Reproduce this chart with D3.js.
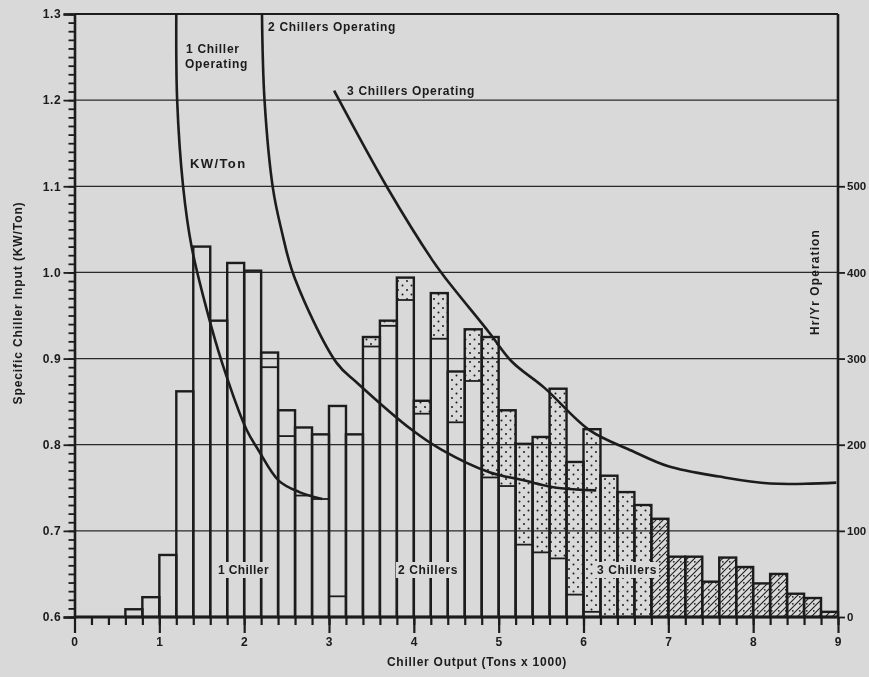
<!DOCTYPE html>
<html>
<head>
<meta charset="utf-8">
<script src="https://cdn.jsdelivr.net/npm/d3@7"></script>
<style>
  body { margin: 0; background: #d9d9d9; }
  svg text { font-family: "Liberation Sans", Arial, sans-serif; font-weight: bold; fill: #1a1a1a; }
</style>
</head>
<body>
<div id="chart"></div>
<script>
// bins of chiller output (tons x 1000), each 0.2 wide
var bins = [0.6, 0.8, 1.0, 1.2, 1.4, 1.6, 1.8, 2.0, 2.2, 2.4, 2.6, 2.8, 3.0, 3.2,
            3.4, 3.6, 3.8, 4.0, 4.2, 4.4, 4.6, 4.8, 5.0, 5.2, 5.4, 5.6, 5.8, 6.0,
            6.2, 6.4, 6.6, 6.8, 7.0, 7.2, 7.4, 7.6, 7.8, 8.0, 8.2, 8.4, 8.6, 8.8];
var binWidth = 0.2;

// hours per year in each bin, split by number of chillers running
var oneChiller    = [9, 23, 72, 262, 430, 344, 411, 402, 290, 210, 141, 137, 24, 0,
                     0, 0, 0, 0, 0, 0, 0, 0, 0, 0, 0, 0, 0, 0,
                     0, 0, 0, 0, 0, 0, 0, 0, 0, 0, 0, 0, 0, 0];
var twoChillers   = [0, 0, 0, 0, 0, 0, 0, 0, 17, 30, 79, 75, 221, 212,
                     314, 338, 368, 236, 323, 226, 274, 162, 152, 84, 75, 68, 26, 6,
                     0, 0, 0, 0, 0, 0, 0, 0, 0, 0, 0, 0, 0, 0];
var threeChillers = [0, 0, 0, 0, 0, 0, 0, 0, 0, 0, 0, 0, 0, 0,
                     11, 6, 26, 15, 53, 59, 60, 163, 88, 117, 134, 197, 154, 212,
                     164, 145, 130, 114, 70, 70, 41, 69, 58, 39, 50, 27, 22, 6];

// KW/Ton curves [tons x 1000, KW/Ton]
var curveOne = [[1.20, 1.30], [1.21, 1.20], [1.28, 1.10], [1.38, 1.03], [1.55, 0.96],
                [1.74, 0.895], [2.03, 0.817], [2.16, 0.795], [2.41, 0.758], [2.65, 0.745], [2.92, 0.737]];
var curveTwo = [[2.21, 1.30], [2.24, 1.20], [2.34, 1.097], [2.44, 1.049], [2.59, 0.995],
                [3.09, 0.895], [3.33, 0.872], [3.98, 0.817], [4.33, 0.794], [4.89, 0.768],
                [5.28, 0.759], [5.68, 0.750], [6.15, 0.747]];
var curveThree = [[3.06, 1.211], [3.69, 1.098], [4.22, 1.014], [4.36, 0.995], [4.89, 0.930],
                  [5.16, 0.896], [5.54, 0.866], [6.07, 0.817], [6.57, 0.793], [7.0, 0.775],
                  [7.6, 0.763], [8.2, 0.755], [8.98, 0.756]];

var xTicks = [0, 1, 2, 3, 4, 5, 6, 7, 8, 9];
var kwTicks = [0.6, 0.7, 0.8, 0.9, 1.0, 1.1, 1.2, 1.3];
var hrTicks = [0, 100, 200, 300, 400, 500];
var gridKw = [0.7, 0.8, 0.9, 1.0, 1.1, 1.2];

var W = 869, H = 677;
var bg = "#d9d9d9", ink = "#1c1c1c";
var plotL = 74.5, plotR = 838, plotT = 14, plotB = 617;

var x = d3.scaleLinear().domain([0, 9]).range([plotL, plotR]);
var y = d3.scaleLinear().domain([0.6, 1.3]).range([plotB, plotT]);
var yHr = d3.scaleLinear().domain([0, 700]).range([plotB, plotT]);

var svg = d3.select("#chart").append("svg")
    .attr("width", W).attr("height", H);

svg.append("rect").attr("width", W).attr("height", H).attr("fill", bg);

var defs = svg.append("defs");
// soft edge like the scanned print
defs.append("filter").attr("id", "soft")
  .append("feGaussianBlur").attr("stdDeviation", 0.35);

// stipple patterns for 3 chiller hours
var dots = defs.append("pattern").attr("id", "dots")
    .attr("patternUnits", "userSpaceOnUse").attr("width", 9).attr("height", 9);
dots.append("circle").attr("cx", 2).attr("cy", 2).attr("r", 1).attr("fill", ink);
dots.append("circle").attr("cx", 6.5).attr("cy", 6.5).attr("r", 1).attr("fill", ink);

var hatch = defs.append("pattern").attr("id", "hatch")
    .attr("patternUnits", "userSpaceOnUse").attr("width", 7).attr("height", 7);
hatch.append("path").attr("d", "M0,7 L7,0 M-1,1 L1,-1 M6,8 L8,6")
    .attr("stroke", ink).attr("stroke-width", 1.1);
hatch.append("circle").attr("cx", 1.8).attr("cy", 1.8).attr("r", 0.9).attr("fill", ink);

var chart = svg.append("g").attr("filter", "url(#soft)");

// grid
chart.append("g").selectAll("line").data(gridKw).enter().append("line")
    .attr("x1", plotL).attr("x2", plotR)
    .attr("y1", function(d) { return y(d); }).attr("y2", function(d) { return y(d); })
    .attr("stroke", "#2a2a2a").attr("stroke-width", 1.3);

// bars
var barData = bins.map(function(b, i) {
  return { b: b, one: oneChiller[i], two: twoChillers[i], three: threeChillers[i] };
});
var bars = chart.append("g");

bars.selectAll(".shade").data(barData.filter(function(d) { return d.three > 0; }))
  .enter().append("rect")
    .attr("x", function(d) { return x(d.b); })
    .attr("width", function(d) { return x(d.b + binWidth) - x(d.b); })
    .attr("y", function(d) { return yHr(d.one + d.two + d.three); })
    .attr("height", function(d) { return yHr(d.one + d.two) - yHr(d.one + d.two + d.three); })
    .attr("fill", function(d) { return d.b >= 6.8 ? "url(#hatch)" : "url(#dots)"; });

// split lines between 1/2 and 2/3 chillers
bars.selectAll(".split1").data(barData.filter(function(d) { return d.one > 0 && d.two + d.three > 0; }))
  .enter().append("line")
    .attr("x1", function(d) { return x(d.b); }).attr("x2", function(d) { return x(d.b + binWidth); })
    .attr("y1", function(d) { return yHr(d.one); }).attr("y2", function(d) { return yHr(d.one); })
    .attr("stroke", ink).attr("stroke-width", 1.8);
bars.selectAll(".split2").data(barData.filter(function(d) { return d.three > 0 && d.one + d.two > 0; }))
  .enter().append("line")
    .attr("x1", function(d) { return x(d.b); }).attr("x2", function(d) { return x(d.b + binWidth); })
    .attr("y1", function(d) { return yHr(d.one + d.two); }).attr("y2", function(d) { return yHr(d.one + d.two); })
    .attr("stroke", ink).attr("stroke-width", 1.8);

bars.selectAll(".bar").data(barData).enter().append("rect")
    .attr("x", function(d) { return x(d.b); })
    .attr("width", function(d) { return x(d.b + binWidth) - x(d.b); })
    .attr("y", function(d) { return yHr(d.one + d.two + d.three); })
    .attr("height", function(d) { return plotB - yHr(d.one + d.two + d.three); })
    .attr("fill", "none").attr("stroke", ink).attr("stroke-width", 2.4);

// KW/Ton curves
var line = d3.line()
    .x(function(d) { return x(d[0]); })
    .y(function(d) { return y(d[1]); })
    .curve(d3.curveCatmullRom.alpha(0.5));
[curveOne, curveTwo, curveThree].forEach(function(c) {
  chart.append("path").attr("d", line(c))
      .attr("fill", "none").attr("stroke", ink).attr("stroke-width", 2.6);
});

// frame
chart.append("line").attr("x1", plotL).attr("x2", plotR).attr("y1", plotT).attr("y2", plotT)
    .attr("stroke", ink).attr("stroke-width", 2.2);

function styleText(g, size, spacing) {
  g.selectAll("text").attr("font-size", size).attr("fill", "#1a1a1a")
    .attr("letter-spacing", spacing).style("font-family", null);
}

// left axis: minor then major
var minor = d3.range(60, 131).map(function(v) { return v / 100; });
chart.append("g").attr("transform", "translate(" + plotL + ",0)")
    .call(d3.axisLeft(y).tickValues(minor).tickSize(6).tickFormat(""))
    .call(function(g) { g.select(".domain").remove(); g.selectAll("line").attr("stroke", ink).attr("stroke-width", 1.8); });
chart.append("g").attr("transform", "translate(" + plotL + ",0)")
    .call(d3.axisLeft(y).tickValues(kwTicks).tickSize(11).tickPadding(2).tickFormat(d3.format(".1f")))
    .call(function(g) {
      g.select(".domain").attr("stroke", ink).attr("stroke-width", 2.6);
      g.selectAll("line").attr("stroke", ink).attr("stroke-width", 1.8);
      styleText(g, 12, 0.7);
    });

// right axis
chart.append("g").attr("transform", "translate(" + plotR + ",0)")
    .call(d3.axisRight(yHr).tickValues(hrTicks).tickSize(7).tickPadding(2))
    .call(function(g) {
      g.select(".domain").attr("stroke", ink).attr("stroke-width", 2.6)
        .attr("d", "M0," + plotT + "V" + plotB);
      g.selectAll("line").attr("stroke", ink).attr("stroke-width", 1.8);
      styleText(g, 11.5, 0);
    });

// bottom axis
var binEdges = bins.concat([9.0]).concat([0.2, 0.4]);
chart.append("g").attr("transform", "translate(0," + plotB + ")")
    .call(d3.axisBottom(x).tickValues(binEdges).tickSize(8).tickFormat(""))
    .call(function(g) { g.select(".domain").remove(); g.selectAll("line").attr("stroke", ink).attr("stroke-width", 2.2); });
chart.append("g").attr("transform", "translate(0," + plotB + ")")
    .call(d3.axisBottom(x).tickValues(xTicks).tickSize(16).tickPadding(4).tickFormat(d3.format("d")))
    .call(function(g) {
      g.select(".domain").attr("stroke", ink).attr("stroke-width", 2.8).attr("d", "M" + plotL + ",0H" + plotR);
      g.selectAll("line").attr("stroke", ink).attr("stroke-width", 2.2);
      styleText(g, 12, 0.7);
    });

// axis titles
chart.append("text").attr("text-anchor", "middle").attr("font-size", 12).attr("letter-spacing", 0.9)
    .attr("transform", "translate(22,303) rotate(-90)")
    .text("Specific Chiller Input (KW/Ton)");
chart.append("text").attr("text-anchor", "middle").attr("font-size", 12).attr("letter-spacing", 1.1)
    .attr("transform", "translate(819,282) rotate(-90)")
    .text("Hr/Yr Operation");
chart.append("text").attr("text-anchor", "middle").attr("font-size", 12).attr("letter-spacing", 0.75)
    .attr("x", 477).attr("y", 666)
    .text("Chiller Output (Tons x 1000)");

// annotations
function note(txt, px, py, knock, size, spacing) {
  var t = chart.append("text").attr("x", px).attr("y", py)
      .attr("font-size", size || 12).attr("letter-spacing", spacing || 0.7).text(txt);
  if (knock) {
    var bb = t.node().getBBox();
    chart.insert("rect", function() { return t.node(); })
        .attr("x", bb.x - 2).attr("y", bb.y - 1)
        .attr("width", bb.width + 4).attr("height", bb.height + 2)
        .attr("fill", bg);
  }
}
note("1 Chiller", 186, 53, false);
note("Operating", 185, 68, false);
note("KW/Ton", 190, 168, false, 13, 1.4);
note("2 Chillers Operating", 268, 31, false);
note("3 Chillers Operating", 347, 95, false);
note("1 Chiller", 218, 574, true, 12, 0.4);
note("2 Chillers", 398, 574, true, 12, 0.6);
note("3 Chillers", 597, 574, true, 12, 0.6);
</script>
</body>
</html>
